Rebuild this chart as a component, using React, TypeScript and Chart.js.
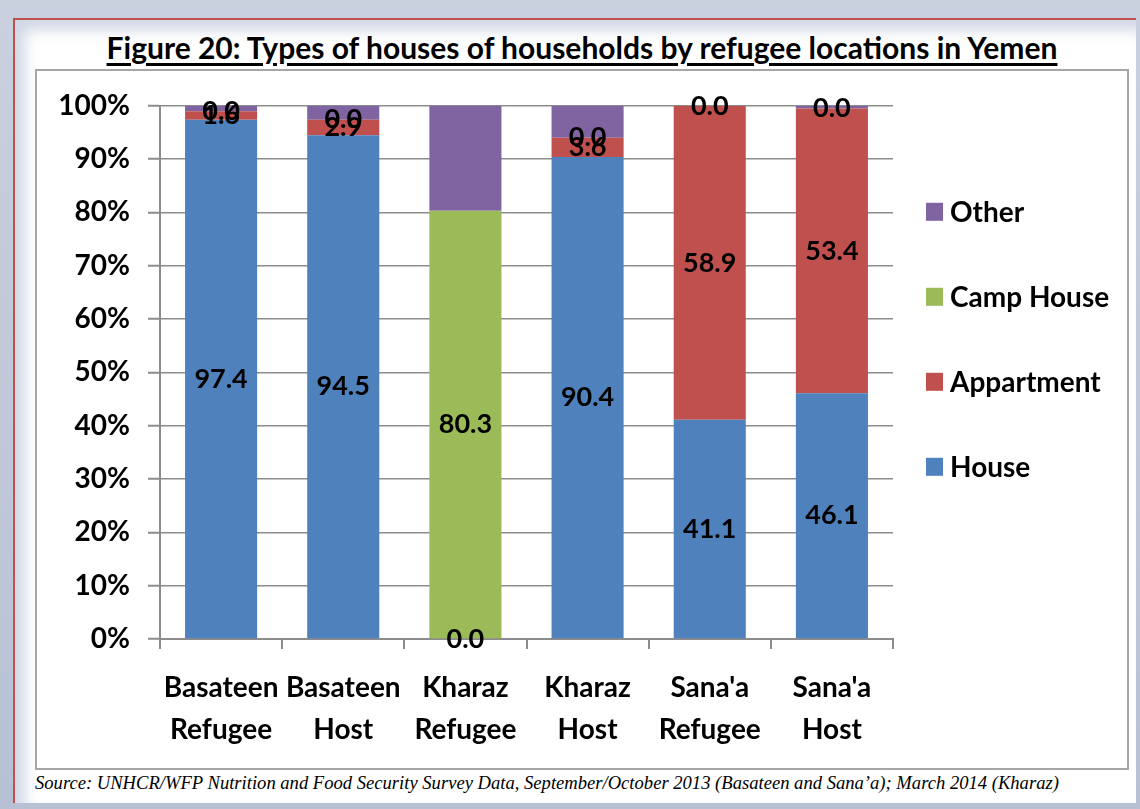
import React, { useEffect, useRef } from "react";
import { Chart, registerables } from "chart.js";

Chart.register(...registerables);

const categories: string[][] = [
  ["Basateen", "Refugee"],
  ["Basateen", "Host"],
  ["Kharaz", "Refugee"],
  ["Kharaz", "Host"],
  ["Sana'a", "Refugee"],
  ["Sana'a", "Host"],
];

const houseValues: (number | null)[] = [97.4, 94.5, 0.0, 90.4, 41.1, 46.1];
const appartmentValues: (number | null)[] = [1.6, 2.9, null, 3.6, 58.9, 53.4];
const campHouseValues: (number | null)[] = [0.0, 0.0, 80.3, 0.0, 0.0, 0.0];
const otherValues: (number | null)[] = [1.0, 2.6, 19.7, 6.0, 0.0, 0.5];

const yTicks: number[] = [0, 10, 20, 30, 40, 50, 60, 70, 80, 90, 100];

const FONT = "Lato, 'Open Sans', sans-serif";

const valueLabelPlugin = {
  id: "valueLabels",
  afterDatasetsDraw(chart: any) {
    const ctx = chart.ctx;
    ctx.save();
    ctx.font = `bold 27px ${FONT}`;
    ctx.fillStyle = "#000";
    ctx.textAlign = "center";
    ctx.textBaseline = "middle";
    chart.data.datasets.forEach((ds: any, i: number) => {
      if (!ds.showValues) return;
      const meta = chart.getDatasetMeta(i);
      meta.data.forEach((el: any, j: number) => {
        const v = ds.data[j];
        if (v === null || v === undefined) return;
        const y = (el.y + el.base) / 2;
        ctx.fillText(Number(v).toFixed(1), el.x, y);
      });
    });
    ctx.restore();
  },
};

const sideLegendPlugin = {
  id: "sideLegend",
  afterDraw(chart: any) {
    const ctx = chart.ctx;
    const area = chart.chartArea;
    const items = chart.data.datasets.slice().reverse();
    ctx.save();
    ctx.font = `bold 28px ${FONT}`;
    ctx.textAlign = "left";
    ctx.textBaseline = "middle";
    const x0 = area.right + 33;
    const yStart = area.top + 106;
    const step = 85;
    items.forEach((ds: any, k: number) => {
      const cy = yStart + k * step;
      ctx.fillStyle = ds.backgroundColor;
      ctx.fillRect(x0, cy - 9, 17, 18);
      ctx.fillStyle = "#000";
      ctx.fillText(ds.label, x0 + 24, cy + 1);
    });
    ctx.restore();
  },
};

export default function App() {
  const canvasRef = useRef<HTMLCanvasElement | null>(null);

  useEffect(() => {
    document.body.style.margin = "0";
    const canvas = canvasRef.current;
    if (!canvas) return;
    const chart = new Chart(canvas, {
      type: "bar",
      data: {
        labels: categories,
        datasets: [
          { label: "House", data: houseValues, backgroundColor: "#4F81BD", showValues: true } as any,
          { label: "Appartment", data: appartmentValues, backgroundColor: "#C0504D", showValues: true } as any,
          { label: "Camp House", data: campHouseValues, backgroundColor: "#9BBB59", showValues: true } as any,
          { label: "Other", data: otherValues, backgroundColor: "#8064A2", showValues: false } as any,
        ],
      },
      options: {
        responsive: false,
        animation: false,
        devicePixelRatio: 1,
        layout: { padding: { left: 0, right: 234, top: 34, bottom: 0 } },
        datasets: { bar: { categoryPercentage: 1, barPercentage: 0.59 } },
        plugins: {
          legend: { display: false },
          tooltip: { enabled: false },
          title: { display: false },
        },
        scales: {
          x: {
            stacked: true,
            offset: true,
            border: { display: true, color: "#8c8c8c", width: 2 },
            grid: {
              display: true,
              offset: true,
              drawOnChartArea: false,
              drawTicks: true,
              tickLength: 10,
              color: "#8c8c8c",
              lineWidth: 2,
            },
            ticks: {
              color: "#000",
              font: { family: FONT, size: 28, weight: "bold", lineHeight: 1.5 },
              padding: 18,
              maxRotation: 0,
              autoSkip: false,
            },
            afterFit: (scale: any) => {
              scale.height = 129;
            },
          },
          y: {
            stacked: true,
            min: 0,
            max: 100,
            border: { display: true, color: "#8c8c8c", width: 2 },
            afterBuildTicks: (scale: any) => {
              scale.ticks = yTicks.map((v) => ({ value: v }));
            },
            grid: {
              color: "#8c8c8c",
              lineWidth: 1.5,
              borderDash: [9, 4, 2, 4],
              tickBorderDash: [],
              tickColor: "#8c8c8c",
              tickWidth: 2,
              tickLength: 12,
              drawTicks: true,
            },
            ticks: {
              color: "#000",
              font: { family: FONT, size: 28, weight: "bold" },
              padding: 18,
              callback: (v: any) => `${v}%`,
            },
            afterFit: (scale: any) => {
              scale.width = 123;
            },
          },
        },
      },
      plugins: [valueLabelPlugin, sideLegendPlugin],
    } as any);
    return () => chart.destroy();
  }, []);

  return (
    <div
      style={{
        position: "relative",
        width: 1140,
        height: 809,
        overflow: "hidden",
        background: "linear-gradient(180deg, #c9d0de 0%, #b8c1d4 100%)",
      }}
    >
      <div
        style={{
          position: "absolute",
          left: 13,
          top: 18,
          width: 1121,
          height: 783,
          background: "#ffffff",
          borderLeft: "2px solid #c0504d",
          borderTop: "2px solid #c0504d",
          boxShadow: "inset 10px 10px 14px rgba(120,140,180,0.35)",
        }}
      />
      <div
        style={{
          position: "absolute",
          left: 35,
          width: 1094,
          top: 29,
          textAlign: "center",
          fontFamily: FONT,
          fontWeight: "bold",
          fontSize: 30,
          color: "#000",
          lineHeight: "36px",
          whiteSpace: "nowrap",
        }}
      >
        <span style={{ textDecoration: "underline", textDecorationThickness: 3, textUnderlineOffset: 4 }}>
          Figure 20: Types of houses of households by refugee locations in Yemen
        </span>
      </div>
      <div
        style={{
          position: "absolute",
          left: 35,
          top: 69,
          width: 1090,
          height: 697,
          border: "2px solid #a6a6a6",
          background: "#fff",
        }}
      >
        <canvas ref={canvasRef} width={1090} height={697} style={{ display: "block", width: 1090, height: 697 }} />
      </div>
      <div
        style={{
          position: "absolute",
          left: 35,
          top: 772,
          fontFamily: "'Liberation Serif', 'Times New Roman', serif",
          fontStyle: "italic",
          fontSize: 18.6,
          color: "#000",
          whiteSpace: "nowrap",
        }}
      >
        Source: UNHCR/WFP Nutrition and Food Security Survey Data, September/October 2013 (Basateen and Sana’a); March 2014 (Kharaz)
      </div>
    </div>
  );
}
